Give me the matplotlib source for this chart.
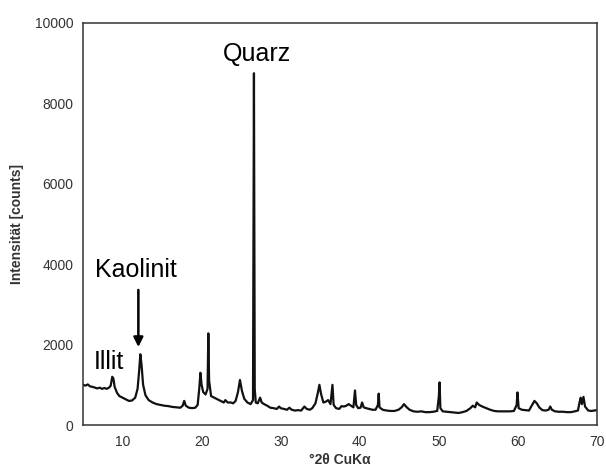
"""XRD-Diffraktogramm (Ton): Illit, Kaolinit, Quarz."""
import matplotlib
matplotlib.use("Agg")
import matplotlib.pyplot as plt

# 2theta (deg) and intensity (counts)
two_theta = [
    5.0, 5.3, 5.6, 5.9, 6.2, 6.5, 6.8, 7.1, 7.4, 7.7, 8.0, 8.3, 8.5, 8.7, 8.85,
    9.0, 9.3, 9.6, 10.0, 10.4, 10.8, 11.2, 11.6, 11.9, 12.1, 12.25, 12.4, 12.6,
    12.9, 13.3, 13.8, 14.3, 14.8, 15.3, 15.8, 16.3, 16.8, 17.3, 17.6, 17.8, 18.0,
    18.4, 18.8, 19.2, 19.5, 19.7, 19.85, 20.0, 20.2, 20.5, 20.75, 20.85, 20.95,
    21.2, 21.6, 22.0, 22.4, 22.8, 23.0, 23.3, 23.7, 24.0, 24.3, 24.6, 24.85, 25.1,
    25.4, 25.8, 26.2, 26.5, 26.62, 26.72, 26.85, 27.1, 27.4, 27.6, 27.9, 28.3,
    28.7, 29.1, 29.5, 29.8, 30.0, 30.4, 30.8, 31.1, 31.4, 31.8, 32.2, 32.6, 33.0,
    33.3, 33.7, 34.0, 34.4, 34.7, 34.9, 35.1, 35.4, 35.7, 36.0, 36.3, 36.45,
    36.55, 36.7, 37.0, 37.4, 37.7, 38.0, 38.3, 38.6, 38.9, 39.2, 39.4, 39.55,
    39.8, 40.1, 40.3, 40.5, 40.8, 41.2, 41.6, 42.0, 42.3, 42.4, 42.5, 42.9, 43.4,
    43.9, 44.4, 44.9, 45.3, 45.6, 45.9, 46.3, 46.8, 47.3, 47.8, 48.3, 48.8, 49.3,
    49.8, 50.0, 50.1, 50.2, 50.5, 51.0, 51.5, 52.0, 52.5, 53.0, 53.5, 54.0, 54.3,
    54.6, 54.8, 55.1, 55.5, 56.0, 56.5, 57.0, 57.5, 58.0, 58.5, 59.0, 59.5,
    59.85, 59.95, 60.1, 60.5, 61.0, 61.4, 61.8, 62.1, 62.4, 62.7, 63.1, 63.5,
    63.9, 64.1, 64.3, 64.7, 65.2, 65.7, 66.2, 66.7, 67.2, 67.6, 67.8, 67.95,
    68.1, 68.3, 68.5, 68.9, 69.3, 69.7, 70.0,
]
counts = [
    1000, 980, 1010, 960, 950, 930, 910, 930, 900, 920, 900, 930, 980, 1200, 1150,
    950, 800, 720, 680, 640, 600, 610, 680, 900, 1350, 1760, 1500, 1000,
    740, 620, 560, 520, 500, 480, 470, 450, 440, 430, 480, 600, 480,
    430, 420, 430, 500, 900, 1300, 1000, 820, 760, 900, 2280, 1100,
    720, 680, 640, 600, 560, 620, 560, 560, 540, 600, 820, 1120, 850,
    650, 560, 520, 620, 8750, 900, 560, 540, 680, 560, 520, 480,
    430, 420, 400, 460, 420, 400, 380, 430, 380, 360, 370, 360, 460,
    400, 380, 420, 540, 800, 1000, 780, 560, 580, 620, 520, 800,
    1000, 500, 420, 400, 470, 460, 480, 520, 480, 440, 860, 500,
    420, 430, 560, 440, 420, 400, 380, 380, 500, 780, 440, 380, 360,
    350, 350, 380, 440, 520, 450, 380, 340, 330, 340, 320, 320, 330,
    350, 700, 1060, 420, 340, 330, 320, 310, 300, 320, 350, 420, 480,
    440, 560, 500, 460, 420, 380, 350, 340, 340, 340, 340, 350,
    500, 810, 420, 380, 370, 360, 500, 600, 540, 440, 370, 360,
    380, 460, 380, 340, 330, 330, 320, 320, 340, 360, 560, 680,
    520, 700, 460, 360, 350, 360, 370,
]

x_ticks = [10, 20, 30, 40, 50, 60, 70]
y_ticks = [0, 2000, 4000, 6000, 8000, 10000]

plt.rcParams["font.family"] = ["Liberation Sans", "DejaVu Sans"]

fig = plt.figure(figsize=(6.06, 4.70), dpi=100)
ax = fig.add_axes([0.137, 0.0957, 0.848, 0.8554])

ax.plot(two_theta, counts, color="#111111", lw=1.6, solid_joinstyle="round")

ax.set_xlim(5, 70)
ax.set_ylim(0, 10000)
ax.set_xticks(x_ticks)
ax.set_yticks(y_ticks)
ax.tick_params(length=0, labelsize=10, labelcolor="#333333", pad=7)
for s in ax.spines.values():
    s.set_color("#333333")
    s.set_linewidth(1.1)

ax.set_xlabel("°2θ CuKα", fontsize=10, fontweight="bold", color="#333333", labelpad=3)
ax.set_ylabel("Intensität [counts]", fontsize=10, fontweight="bold", color="#333333", labelpad=8)

# mineral labels
ax.text(22.7, 9050, "Quarz", fontsize=18)
ax.text(6.5, 3680, "Kaolinit", fontsize=18)
ax.text(6.3, 1400, "Illit", fontsize=18)
ax.annotate("", xy=(12.0, 1940), xytext=(12.0, 3360),
            arrowprops=dict(arrowstyle="-|>", color="black", lw=1.8,
                            mutation_scale=14, shrinkA=0, shrinkB=0))

fig.savefig("out.png", dpi=100)
